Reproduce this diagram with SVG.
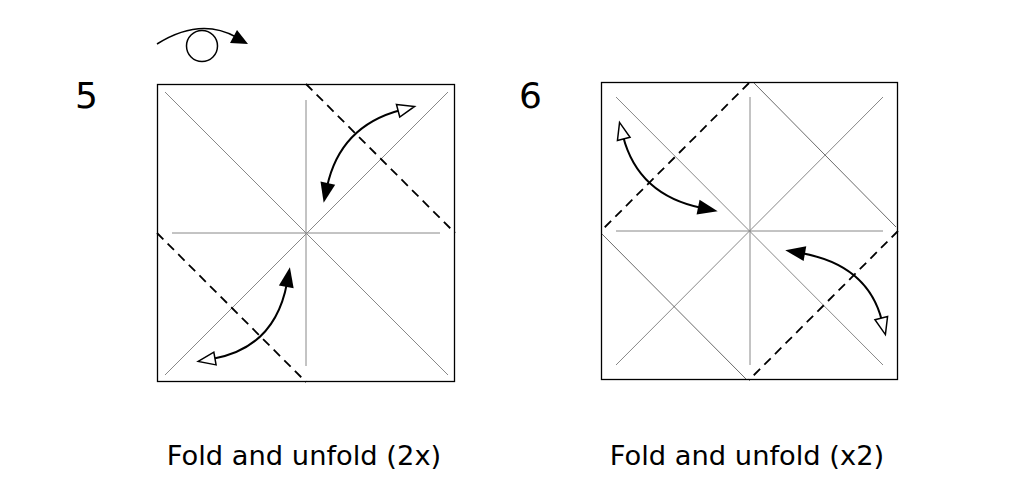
<svg xmlns="http://www.w3.org/2000/svg" width="1019" height="492" viewBox="0 0 1019 492">
<style>
.sq{fill:none;stroke:#000;stroke-width:1.3}
.cr{stroke:#888;stroke-width:1;fill:none}
.cr2{stroke:#444;stroke-width:0.8;fill:none}
.dash{stroke:#000;stroke-width:1.8;stroke-dasharray:9,6;fill:none}
.arr{stroke:#000;stroke-width:2;fill:none;marker-start:url(#open);marker-end:url(#fill)}
text{font-family:"DejaVu Sans",Verdana,sans-serif;fill:#000}
</style>
<defs>
<marker id="fill" viewBox="0 0 24 24" refX="4" refY="12" markerWidth="24" markerHeight="24" markerUnits="userSpaceOnUse" orient="auto" overflow="visible"><path d="M0,4.5 L20,12 L0,19.5 Z" fill="#000"/></marker>
<marker id="open" viewBox="0 0 24 24" refX="3" refY="12" markerWidth="24" markerHeight="24" markerUnits="userSpaceOnUse" orient="auto-start-reverse" overflow="visible"><path d="M0,5.5 L17,12 L0,18.5 Z" fill="#fff" stroke="#000" stroke-width="1.5"/></marker>
</defs>
<g id="step5">
<text x="75" y="108" font-size="36">5</text>
<rect class="sq" x="157.5" y="84.5" width="297" height="297"/>
<line class="cr" x1="165" y1="92" x2="448" y2="375"/>
<line class="cr" x1="448" y1="92" x2="165" y2="375"/>
<line class="cr" x1="172" y1="233" x2="440" y2="233"/>
<line class="cr" x1="306" y1="100" x2="306" y2="366"/>
<line class="dash" x1="306" y1="84" x2="455" y2="233"/>
<line class="dash" x1="157" y1="233" x2="306" y2="382"/>
</g>
<g id="turnover">
<circle cx="202" cy="46" r="15.5" fill="none" stroke="#000" stroke-width="1.5"/>
<path d="M157,44 Q200,17 236,37" fill="none" stroke="#000" stroke-width="1.5"/>
<path d="M248,44 L230,43 L237,30 Z" fill="#000"/>
</g>
<g id="step6">
<text x="519" y="108" font-size="36">6</text>
<rect class="sq" x="601.5" y="82.5" width="296" height="297"/>
<line class="cr" x1="616" y1="97" x2="883" y2="365"/>
<line class="cr" x1="883" y1="97" x2="616" y2="365"/>
<line class="cr" x1="616" y1="231" x2="883" y2="231"/>
<line class="cr" x1="750" y1="97" x2="750" y2="365"/>
<line class="cr2" x1="754" y1="83" x2="896" y2="227"/>
<line class="cr2" x1="602" y1="234" x2="746" y2="379"/>
<line class="dash" x1="749" y1="83" x2="601" y2="231"/>
<line class="dash" x1="898" y1="231" x2="749" y2="380"/>
</g>
<g id="connectors">
<path class="arr" d="M401,110 Q340,126 327,187"/>
<path class="arr" d="M212,359 Q275,348 287,283"/>
<path class="arr" d="M623,136 Q638,195 702,208"/>
<path class="arr" d="M882,321 Q868,265 801,253"/>
</g>
<g id="labels">
<text x="304" y="465" font-size="27.3" text-anchor="middle">Fold and unfold (2x)</text>
<text x="747" y="465" font-size="27.3" text-anchor="middle">Fold and unfold (x2)</text>
</g>
</svg>
